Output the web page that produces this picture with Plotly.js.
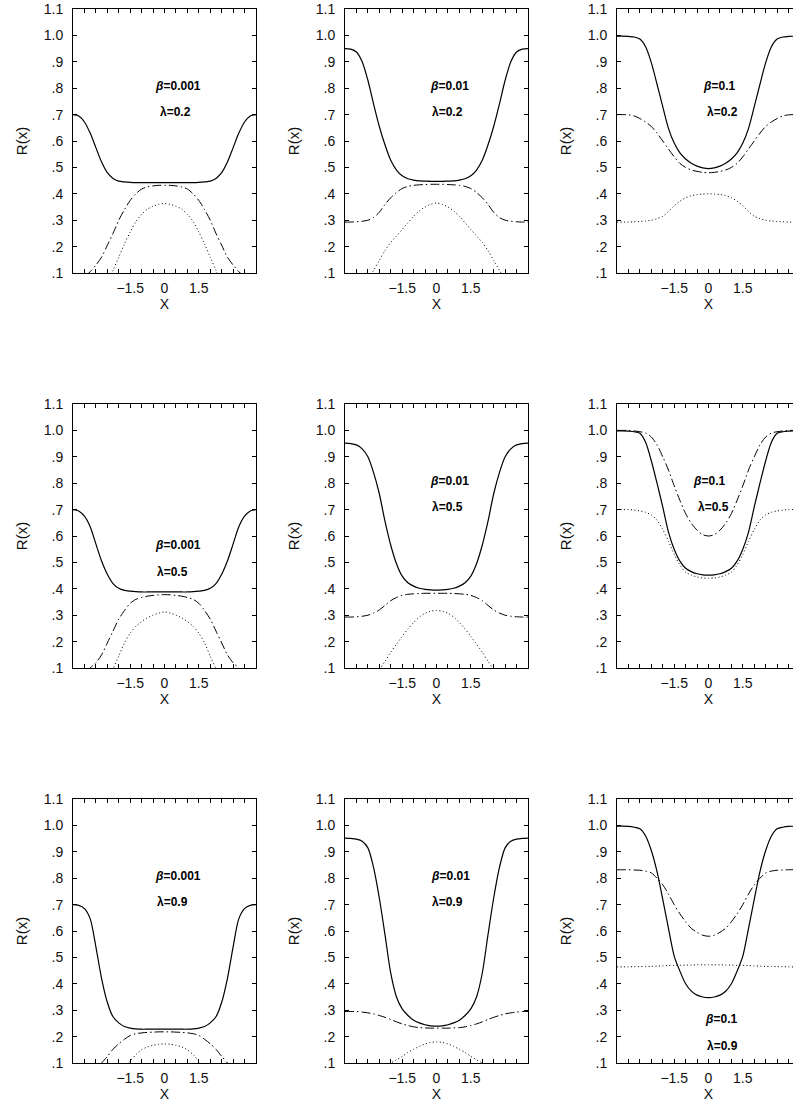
<!DOCTYPE html>
<html>
<head>
<meta charset="utf-8">
<script src="https://cdn.plot.ly/plotly-3.0.1.min.js"></script>
<style>
  html, body { margin: 0; padding: 0; background: #fff; overflow: hidden; }
  #plot { width: 800px; height: 1107px; }
</style>
</head>
<body>
<div id="plot"></div>
<script>
// x grid shared by every curve (step 0.25)
const xs = [-4, -3.75, -3.5, -3.25, -3, -2.75, -2.5, -2.25, -2, -1.75, -1.5, -1.25, -1, -0.75, -0.5, -0.25, 0,
            0.25, 0.5, 0.75, 1, 1.25, 1.5, 1.75, 2, 2.25, 2.5, 2.75, 3, 3.25, 3.5, 3.75, 4]

// row 1 : lambda = 0.2
const p1Solid   = [0.700, 0.695, 0.672, 0.630, 0.575, 0.520, 0.480, 0.458, 0.448, 0.445, 0.443, 0.442, 0.442, 0.442, 0.442, 0.442, 0.442,
                   0.442, 0.442, 0.442, 0.442, 0.442, 0.443, 0.445, 0.448, 0.458, 0.480, 0.520, 0.575, 0.630, 0.672, 0.695, 0.700]
const p1DashDot = [0.050, 0.065, 0.085, 0.105, 0.130, 0.160, 0.205, 0.250, 0.300, 0.340, 0.375, 0.400, 0.418, 0.426, 0.430, 0.432, 0.432,
                   0.432, 0.430, 0.426, 0.418, 0.400, 0.375, 0.340, 0.300, 0.250, 0.205, 0.160, 0.130, 0.105, 0.085, 0.065, 0.050]
const p1Dotted  = [0, 0, 0, 0, 0, 0.020, 0.060, 0.110, 0.160, 0.210, 0.255, 0.295, 0.322, 0.342, 0.353, 0.360, 0.363,
                   0.360, 0.353, 0.342, 0.322, 0.295, 0.255, 0.210, 0.160, 0.110, 0.060, 0.020, 0, 0, 0, 0, 0]

const p2Solid   = [0.950, 0.948, 0.937, 0.900, 0.830, 0.740, 0.655, 0.585, 0.527, 0.490, 0.468, 0.457, 0.452, 0.449, 0.448, 0.447, 0.447,
                   0.447, 0.448, 0.449, 0.452, 0.457, 0.468, 0.490, 0.527, 0.585, 0.655, 0.740, 0.830, 0.900, 0.937, 0.948, 0.950]
const p2DashDot = [0.293, 0.293, 0.294, 0.296, 0.300, 0.310, 0.330, 0.360, 0.385, 0.405, 0.420, 0.428, 0.432, 0.434, 0.435, 0.436, 0.436,
                   0.436, 0.435, 0.434, 0.432, 0.428, 0.420, 0.405, 0.385, 0.360, 0.330, 0.310, 0.300, 0.296, 0.294, 0.293, 0.293]
const p2Dotted  = [0, 0, 0.010, 0.040, 0.075, 0.110, 0.148, 0.185, 0.216, 0.240, 0.265, 0.290, 0.315, 0.335, 0.350, 0.360, 0.365,
                   0.360, 0.350, 0.335, 0.315, 0.290, 0.265, 0.240, 0.216, 0.185, 0.148, 0.110, 0.075, 0.040, 0.010, 0, 0]

const p3Solid   = [0.997, 0.997, 0.996, 0.994, 0.986, 0.957, 0.897, 0.815, 0.730, 0.648, 0.592, 0.555, 0.532, 0.516, 0.505, 0.498, 0.495,
                   0.498, 0.505, 0.516, 0.532, 0.555, 0.592, 0.648, 0.730, 0.815, 0.897, 0.957, 0.986, 0.994, 0.996, 0.997, 0.997]
const p3DashDot = [0.700, 0.700, 0.699, 0.695, 0.685, 0.672, 0.655, 0.630, 0.600, 0.570, 0.540, 0.515, 0.500, 0.490, 0.485, 0.481, 0.480,
                   0.481, 0.485, 0.490, 0.500, 0.515, 0.540, 0.570, 0.600, 0.630, 0.655, 0.672, 0.685, 0.695, 0.699, 0.700, 0.700]
const p3Dotted  = [0.293, 0.293, 0.293, 0.294, 0.295, 0.297, 0.300, 0.306, 0.315, 0.333, 0.355, 0.372, 0.385, 0.393, 0.397, 0.399, 0.400,
                   0.399, 0.397, 0.393, 0.385, 0.372, 0.355, 0.333, 0.315, 0.306, 0.300, 0.297, 0.295, 0.294, 0.293, 0.293, 0.293]

// row 2 : lambda = 0.5
const p4Solid   = [0.700, 0.695, 0.675, 0.635, 0.570, 0.505, 0.455, 0.420, 0.402, 0.394, 0.391, 0.389, 0.388, 0.388, 0.388, 0.388, 0.388,
                   0.388, 0.388, 0.388, 0.388, 0.389, 0.391, 0.394, 0.402, 0.420, 0.455, 0.505, 0.570, 0.635, 0.675, 0.695, 0.700]
const p4DashDot = [0.050, 0.060, 0.075, 0.100, 0.120, 0.150, 0.195, 0.240, 0.285, 0.318, 0.345, 0.360, 0.367, 0.372, 0.375, 0.377, 0.378,
                   0.377, 0.375, 0.372, 0.367, 0.360, 0.345, 0.318, 0.285, 0.240, 0.195, 0.150, 0.120, 0.100, 0.075, 0.060, 0.050]
const p4Dotted  = [0, 0, 0, 0, 0, 0.020, 0.050, 0.097, 0.145, 0.195, 0.232, 0.258, 0.276, 0.290, 0.300, 0.308, 0.312,
                   0.308, 0.300, 0.290, 0.276, 0.258, 0.232, 0.195, 0.145, 0.097, 0.050, 0.020, 0, 0, 0, 0, 0]

const p5Solid   = [0.952, 0.950, 0.945, 0.930, 0.900, 0.840, 0.760, 0.655, 0.565, 0.495, 0.448, 0.423, 0.410, 0.402, 0.398, 0.396, 0.395,
                   0.396, 0.398, 0.402, 0.410, 0.423, 0.448, 0.495, 0.565, 0.655, 0.760, 0.840, 0.900, 0.930, 0.945, 0.950, 0.952]
const p5DashDot = [0.293, 0.293, 0.294, 0.296, 0.300, 0.308, 0.320, 0.337, 0.355, 0.367, 0.375, 0.379, 0.381, 0.382, 0.383, 0.383, 0.383,
                   0.383, 0.383, 0.382, 0.381, 0.379, 0.375, 0.367, 0.355, 0.337, 0.320, 0.308, 0.300, 0.296, 0.294, 0.293, 0.293]
const p5Dotted  = [0, 0, 0, 0.020, 0.045, 0.070, 0.095, 0.125, 0.160, 0.190, 0.220, 0.248, 0.272, 0.293, 0.307, 0.315, 0.318,
                   0.315, 0.307, 0.293, 0.272, 0.248, 0.220, 0.190, 0.160, 0.125, 0.095, 0.070, 0.045, 0.020, 0, 0, 0]

const p6Solid   = [0.998, 0.998, 0.997, 0.995, 0.989, 0.955, 0.885, 0.800, 0.710, 0.615, 0.550, 0.505, 0.478, 0.465, 0.457, 0.453, 0.452,
                   0.453, 0.457, 0.465, 0.478, 0.505, 0.550, 0.615, 0.710, 0.800, 0.885, 0.955, 0.989, 0.995, 0.997, 0.998, 0.998]
const p6DashDot = [1.000, 1.000, 1.000, 0.998, 0.995, 0.990, 0.975, 0.945, 0.900, 0.850, 0.790, 0.735, 0.685, 0.648, 0.622, 0.605, 0.600,
                   0.605, 0.622, 0.648, 0.685, 0.735, 0.790, 0.850, 0.900, 0.945, 0.975, 0.990, 0.995, 0.998, 1.000, 1.000, 1.000]
const p6Dotted  = [0.700, 0.700, 0.700, 0.698, 0.695, 0.690, 0.680, 0.660, 0.625, 0.580, 0.530, 0.490, 0.463, 0.452, 0.445, 0.441, 0.440,
                   0.441, 0.445, 0.452, 0.463, 0.490, 0.530, 0.580, 0.625, 0.660, 0.680, 0.690, 0.695, 0.698, 0.700, 0.700, 0.700]

// row 3 : lambda = 0.9
const p7Solid   = [0.700, 0.697, 0.685, 0.647, 0.540, 0.420, 0.330, 0.275, 0.252, 0.238, 0.232, 0.229, 0.228, 0.228, 0.228, 0.228, 0.228,
                   0.228, 0.228, 0.228, 0.228, 0.229, 0.232, 0.238, 0.252, 0.275, 0.330, 0.420, 0.540, 0.647, 0.685, 0.697, 0.700]
const p7DashDot = [0.030, 0.040, 0.050, 0.065, 0.080, 0.100, 0.125, 0.152, 0.173, 0.190, 0.204, 0.211, 0.214, 0.216, 0.217, 0.218, 0.218,
                   0.218, 0.217, 0.216, 0.214, 0.211, 0.204, 0.190, 0.173, 0.152, 0.125, 0.100, 0.080, 0.065, 0.050, 0.040, 0.030]
const p7Dotted  = [0, 0, 0, 0, 0, 0, 0, 0.010, 0.040, 0.075, 0.107, 0.132, 0.150, 0.161, 0.167, 0.171, 0.172,
                   0.171, 0.167, 0.161, 0.150, 0.132, 0.107, 0.075, 0.040, 0.010, 0, 0, 0, 0, 0, 0, 0]

const p8Solid   = [0.952, 0.951, 0.948, 0.940, 0.915, 0.840, 0.725, 0.585, 0.440, 0.350, 0.305, 0.280, 0.262, 0.252, 0.245, 0.241, 0.240,
                   0.241, 0.245, 0.252, 0.262, 0.280, 0.305, 0.350, 0.440, 0.585, 0.725, 0.840, 0.915, 0.940, 0.948, 0.951, 0.952]
const p8DashDot = [0.295, 0.295, 0.295, 0.293, 0.290, 0.286, 0.280, 0.273, 0.265, 0.256, 0.248, 0.242, 0.237, 0.234, 0.233, 0.232, 0.232,
                   0.232, 0.232, 0.233, 0.234, 0.237, 0.242, 0.248, 0.256, 0.265, 0.273, 0.280, 0.286, 0.290, 0.293, 0.295, 0.295]
const p8Dotted  = [0.020, 0.025, 0.030, 0.040, 0.050, 0.062, 0.075, 0.088, 0.100, 0.112, 0.125, 0.140, 0.152, 0.163, 0.172, 0.178, 0.180,
                   0.178, 0.172, 0.163, 0.152, 0.140, 0.125, 0.112, 0.100, 0.088, 0.075, 0.062, 0.050, 0.040, 0.030, 0.025, 0.020]

const p9Solid   = [0.997, 0.997, 0.996, 0.993, 0.987, 0.960, 0.905, 0.825, 0.720, 0.610, 0.505, 0.448, 0.400, 0.372, 0.357, 0.350, 0.348,
                   0.350, 0.357, 0.372, 0.400, 0.448, 0.505, 0.610, 0.720, 0.825, 0.905, 0.960, 0.987, 0.993, 0.996, 0.997, 0.997]
const p9DashDot = [0.832, 0.832, 0.832, 0.831, 0.830, 0.827, 0.820, 0.800, 0.775, 0.740, 0.700, 0.665, 0.635, 0.610, 0.595, 0.584, 0.580,
                   0.584, 0.595, 0.610, 0.635, 0.665, 0.700, 0.740, 0.775, 0.800, 0.820, 0.827, 0.830, 0.831, 0.832, 0.832, 0.832]
const p9Dotted  = [0.464, 0.464, 0.464, 0.465, 0.465, 0.466, 0.466, 0.467, 0.468, 0.469, 0.470, 0.470, 0.471, 0.471, 0.472, 0.472, 0.472,
                   0.472, 0.472, 0.471, 0.471, 0.470, 0.470, 0.469, 0.468, 0.467, 0.466, 0.466, 0.465, 0.465, 0.464, 0.464, 0.464]

const betaVals = ['0.001', '0.01', '0.1']
const lambdaVals = ['0.2', '0.5', '0.9']

// tick labels
const xTickVals = [-3.5, -3, -2.5, -2, -1.5, -1, -0.5, 0, 0.5, 1, 1.5, 2, 2.5, 3, 3.5]
const xTickText = ['', '', '', '', '\u22121.5', '', '', '0', '', '', '1.5', '', '', '', '']
const yTickVals = [0.1, 0.2, 0.3, 0.4, 0.5, 0.6, 0.7, 0.8, 0.9, 1.0, 1.1]
const yTickText = ['.1', '.2', '.3', '.4', '.5', '.6', '.7', '.8', '.9', '1.0', '1.1']

const panels = [
    { solid: p1Solid, dashdot: p1DashDot, dotted: p1Dotted, b: 0, l: 0, bPos: [0.6, 0.81], lPos: [0.5, 0.71] },
    { solid: p2Solid, dashdot: p2DashDot, dotted: p2Dotted, b: 1, l: 0, bPos: [0.55, 0.81], lPos: [0.47, 0.71] },
    { solid: p3Solid, dashdot: p3DashDot, dotted: p3Dotted, b: 2, l: 0, bPos: [0.44, 0.81], lPos: [0.6, 0.71] },
    { solid: p4Solid, dashdot: p4DashDot, dotted: p4Dotted, b: 0, l: 1, bPos: [0.6, 0.565], lPos: [0.34, 0.465] },
    { solid: p5Solid, dashdot: p5DashDot, dotted: p5Dotted, b: 1, l: 1, bPos: [0.55, 0.81], lPos: [0.47, 0.71] },
    { solid: p6Solid, dashdot: p6DashDot, dotted: p6Dotted, b: 2, l: 1, bPos: [0.0, 0.81], lPos: [0.23, 0.71] },
    { solid: p7Solid, dashdot: p7DashDot, dotted: p7Dotted, b: 0, l: 2, bPos: [0.6, 0.81], lPos: [0.34, 0.71] },
    { solid: p8Solid, dashdot: p8DashDot, dotted: p8Dotted, b: 1, l: 2, bPos: [0.62, 0.81], lPos: [0.47, 0.71] },
    { solid: p9Solid, dashdot: p9DashDot, dotted: p9Dotted, b: 2, l: 2, bPos: [0.53, 0.265], lPos: [0.6, 0.163] },
]

const W = 800, H = 1107
const colLeft = [73, 345, 617]
const rowTop = [9, 404, 799]
const boxW = 183, boxH = 264

const font = { family: 'Liberation Sans, Arial, sans-serif', size: 14, color: '#111' }

const styles = [
    { key: 'solid', dash: 'solid', width: 1.2 },
    { key: 'dashdot', dash: '9px,3px,1.5px,3px', width: 1 },
    { key: 'dotted', dash: '1px,2.5px', width: 1 },
]

var traces = []
var annotations = []
var layout = {
    width: W,
    height: H,
    margin: { l: 0, r: 0, t: 0, b: 0 },
    paper_bgcolor: '#fff',
    plot_bgcolor: '#fff',
    showlegend: false,
    font: font,
}

panels.forEach((p, i) => {
    const row = Math.floor(i / 3), col = i % 3
    const n = i === 0 ? '' : String(i + 1)

    styles.forEach(s => {
        traces.push({
            x: xs,
            y: p[s.key],
            xaxis: 'x' + n,
            yaxis: 'y' + n,
            type: 'scatter',
            mode: 'lines',
            line: { color: '#000', width: s.width, dash: s.dash, shape: 'spline', smoothing: 0.8 },
            hoverinfo: 'skip',
        })
    })

    layout['xaxis' + n] = {
        domain: [colLeft[col] / W, (colLeft[col] + boxW) / W],
        anchor: 'y' + n,
        range: [-4, 4],
        tickmode: 'array',
        tickvals: xTickVals,
        ticktext: xTickText,
        ticks: 'inside',
        ticklen: 4,
        tickwidth: 1,
        tickcolor: '#000',
        ticklabelstandoff: 2,
        showline: true,
        mirror: 'ticks',
        linecolor: '#000',
        linewidth: 1,
        showgrid: false,
        zeroline: false,
        fixedrange: true,
        tickfont: { size: 14 },
        title: { text: 'X', font: { size: 14 }, standoff: 3 },
    }
    layout['yaxis' + n] = {
        domain: [1 - (rowTop[row] + boxH) / H, 1 - rowTop[row] / H],
        anchor: 'x' + n,
        range: [0.1, 1.1],
        tickmode: 'array',
        tickvals: yTickVals,
        ticktext: yTickText,
        ticks: 'inside',
        ticklen: 4,
        tickwidth: 1,
        tickcolor: '#000',
        ticklabelstandoff: 6,
        showline: true,
        mirror: 'ticks',
        linecolor: '#000',
        linewidth: 1,
        showgrid: false,
        zeroline: false,
        fixedrange: true,
        tickfont: { size: 14 },
        title: { text: 'R(x)', font: { size: 15 }, standoff: 12 },
    }

    annotations.push({
        xref: 'x' + n, yref: 'y' + n,
        x: p.bPos[0], y: p.bPos[1],
        text: '<b><i>\u03b2</i>=' + betaVals[p.b] + '</b>',
        showarrow: false,
        font: { size: 12, color: '#000' },
    })
    annotations.push({
        xref: 'x' + n, yref: 'y' + n,
        x: p.lPos[0], y: p.lPos[1],
        text: '<b>\u03bb=' + lambdaVals[p.l] + '</b>',
        showarrow: false,
        font: { size: 12, color: '#000' },
    })
})

layout.annotations = annotations

Plotly.newPlot('plot', traces, layout, { staticPlot: true })
</script>
</body>
</html>
